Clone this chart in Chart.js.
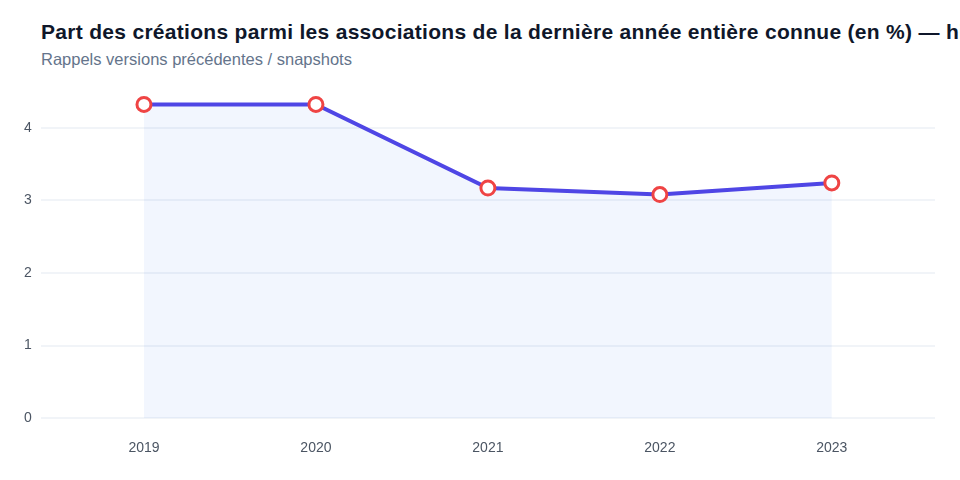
<!DOCTYPE html>
<html lang="fr">
<head>
<meta charset="utf-8">
<script src="https://cdn.jsdelivr.net/npm/chart.js@4/dist/chart.umd.min.js"></script>
<style>
  html, body { margin: 0; padding: 0; background: #ffffff; }
  body { width: 960px; height: 480px; overflow: hidden; position: relative; font-family: "Liberation Sans", Arial, sans-serif; }
  #title { position: absolute; left: 41px; top: 20px; white-space: nowrap; font-size: 21px; font-weight: bold; color: #0f172a; letter-spacing: 0.3px; }
  #subtitle { position: absolute; left: 41px; top: 50px; white-space: nowrap; font-size: 16.5px; color: #64748b; }
  #wrap { position: absolute; left: 0; top: 74px; width: 960px; height: 406px; }
</style>
</head>
<body>
<div id="title">Part des créations parmi les associations de la dernière année entière connue (en %) — historique</div>
<div id="subtitle">Rappels versions précédentes / snapshots</div>
<div id="wrap"><canvas id="chart"></canvas></div>
<script>
const years = [2019, 2020, 2021, 2022, 2023];
const shares = [4.32, 4.32, 3.17, 3.08, 3.24];
const yTicks = [0, 1, 2, 3, 4];

const ctx = document.getElementById('chart');

new Chart(ctx, {
  type: 'line',
  data: {
    datasets: [
      {
        label: 'Part des créations (%)',
        data: years.map((year, i) => ({ x: year, y: shares[i] })),
        borderColor: '#4f46e5',
        borderWidth: 4,
        backgroundColor: 'rgba(37, 99, 235, 0.06)',
        fill: 'origin',
        tension: 0,
        pointRadius: 7,
        pointBorderWidth: 3,
        pointBackgroundColor: '#ffffff',
        pointBorderColor: '#ef4444',
      },
    ],
  },
  options: {
    responsive: true,
    maintainAspectRatio: false,
    animation: false,
    layout: { padding: { left: 15, right: 25, top: 0, bottom: 9 } },
    plugins: {
      legend: { display: false },
      tooltip: { enabled: false },
    },
    scales: {
      x: {
        type: 'linear',
        min: 2018.4,
        max: 2023.6,
        afterBuildTicks: (axis) => {
          axis.ticks = years.map((year) => ({ value: year }));
        },
        ticks: {
          color: '#4b5563',
          font: { size: 14, family: 'Liberation Sans' },
          padding: 14,
          callback: (value) => String(value),
        },
        grid: { display: false },
        border: { display: false },
      },
      y: {
        min: 0,
        max: 4.5,
        afterBuildTicks: (axis) => {
          axis.ticks = yTicks.map((value) => ({ value }));
        },
        ticks: {
          color: '#4b5563',
          font: { size: 14, family: 'Liberation Sans' },
          padding: 9,
        },
        grid: { color: '#f1f4f8', lineWidth: 2, drawTicks: false },
        border: { display: false },
      },
    },
  },
});
</script>
</body>
</html>
